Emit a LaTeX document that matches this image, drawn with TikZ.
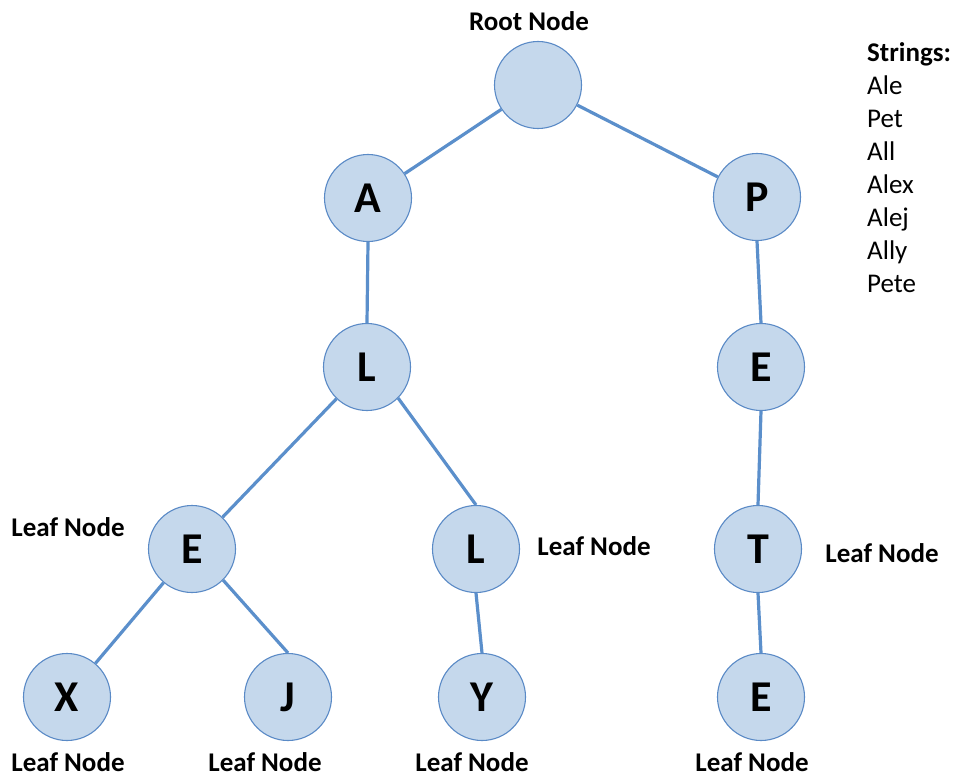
\documentclass[tikz,border=0pt]{standalone}
\usepackage{fontspec}
\setmainfont{Carlito}
\definecolor{nodefill}{HTML}{C5D8EC}
\definecolor{nodeedge}{HTML}{5A8AC6}
\definecolor{linkblue}{HTML}{5B8FCB}
\begin{document}
\begin{tikzpicture}[x=1pt,y=-1pt,
  tnode/.style={circle, draw=nodeedge, fill=nodefill, line width=1.1pt, minimum size=87pt, inner sep=0pt,
    font=\fontsize{44}{48}\selectfont\bfseries},
  lbl/.style={font=\fontsize{27}{30}\selectfont\bfseries, inner sep=0pt},
  link/.style={draw=linkblue, line width=3.2pt}]
\useasboundingbox (0,0) rectangle (956,778);
% nodes
\node[tnode] (root) at (538,85) {};
\node[tnode] (A) at (368,198) {A};
\node[tnode] (P) at (757,197) {P};
\node[tnode] (L) at (367,367) {L};
\node[tnode] (E1) at (761,367) {E};
\node[tnode] (E) at (192,549) {E};
\node[tnode] (L2) at (476,549) {L};
\node[tnode] (T) at (758,549) {T};
\node[tnode] (X) at (67,697) {X};
\node[tnode] (J) at (288,697) {J};
\node[tnode] (Y) at (482,697) {Y};
\node[tnode] (E2) at (761,697) {E};
% connectors
\draw[link] (root) -- (A);
\draw[link] (root) -- (P);
\draw[link] (A.south) -- (L.north);
\draw[link] (P.south) -- (E1.north);
\draw[link] (L) -- (E);
\draw[link] (L.-45) -- (L2.north);
\draw[link] (E1.south) -- (T.north);
\draw[link] (T.south) -- (E2.north);
\draw[link] (E) -- (X);
\draw[link] (E.-45) -- (J.north);
\draw[link] (L2.south) -- (Y.north);
% labels
\node[lbl] (rootlbl) at (529,21) {Root Node};
\node[lbl] (leafE) at (68,527) {Leaf Node};
\node[lbl] (leafL2) at (594,546) {Leaf Node};
\node[lbl] (leafT) at (882,553) {Leaf Node};
\node[lbl] (leafX) at (68,762) {Leaf Node};
\node[lbl] (leafJ) at (265,762) {Leaf Node};
\node[lbl] (leafY) at (472,762) {Leaf Node};
\node[lbl] (leafE2) at (752,762) {Leaf Node};
\node[anchor=north west, align=left, inner sep=0pt, font=\fontsize{27}{33}\selectfont] (strings) at (867,42)
  {\textbf{Strings:}\\Ale\\Pet\\All\\Alex\\Alej\\Ally\\Pete};
\end{tikzpicture}
\end{document}
